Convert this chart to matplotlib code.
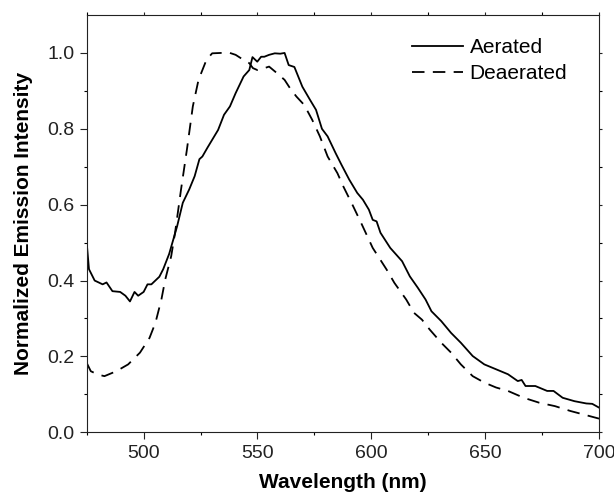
import numpy as np
import matplotlib
matplotlib.use("Agg")
import matplotlib.pyplot as plt

# emission spectra
aer_wl = [475, 476, 478.5, 482, 483.7, 486.3, 489.7, 492, 494, 496, 497.6, 500,
          501.7, 503.4, 506.9, 508.6, 511.2, 514.7, 517.2, 520, 522.4, 524.5,
          525.8, 528, 530.1, 532.7, 535.3, 537.9, 540.4, 543.9, 546.4, 547.8,
          549.9, 551.6, 553, 555.1, 557.6, 560, 561.9, 563.7, 566.2, 569.7,
          573.1, 575.7, 578.3, 580.8, 584.3, 586.9, 590.3, 593.8, 596.3, 598.9,
          600.6, 602.3, 604, 608.3, 613.5, 616.9, 620.4, 623.8, 626.4, 630.7,
          635, 639.3, 644.5, 649.6, 654.8, 660, 664.3, 666, 667.7, 672, 677.2,
          680, 684, 689.2, 694.4, 697, 700]
aer_int = [0.50, 0.43, 0.40, 0.39, 0.395, 0.372, 0.37, 0.36, 0.345, 0.37, 0.36,
           0.37, 0.39, 0.39, 0.41, 0.43, 0.47, 0.543, 0.605, 0.64, 0.675, 0.72,
           0.727, 0.75, 0.771, 0.797, 0.837, 0.859, 0.894, 0.938, 0.955, 0.989,
           0.977, 0.99, 0.99, 0.995, 0.999, 0.998, 1.0, 0.968, 0.963, 0.911,
           0.876, 0.85, 0.80, 0.78, 0.736, 0.705, 0.666, 0.631, 0.613, 0.587,
           0.56, 0.556, 0.526, 0.486, 0.451, 0.411, 0.381, 0.35, 0.319, 0.293,
           0.262, 0.236, 0.201, 0.179, 0.166, 0.153, 0.135, 0.138, 0.122, 0.122,
           0.109, 0.109, 0.091, 0.082, 0.076, 0.075, 0.065]

dea_wl = [475, 476.8, 480, 482.8, 488, 493.2, 498.4, 502.6, 505.2, 507.8, 509.5,
          512.1, 513.8, 516.4, 519, 521.6, 524.1, 527.6, 530.1, 534, 537.9,
          540.4, 543, 546.4, 548, 549.9, 552, 555.1, 558.5, 561.9, 564.5, 567.1,
          570.5, 574, 577.4, 580.8, 585.1, 587.7, 592, 595.5, 600.6, 606.7,
          610.1, 615.3, 618.7, 622.2, 625.6, 630.7, 635, 639.3, 644.5, 649.6,
          654.8, 660, 666.9, 673.7, 680.6, 687.5, 694.4, 700]
dea_int = [0.183, 0.161, 0.152, 0.148, 0.161, 0.179, 0.21, 0.249, 0.289, 0.35,
           0.403, 0.464, 0.526, 0.639, 0.745, 0.859, 0.929, 0.982, 0.999, 1.0,
           1.0, 0.995, 0.985, 0.973, 0.96, 0.955, 0.958, 0.964, 0.947, 0.929,
           0.905, 0.885, 0.863, 0.824, 0.78, 0.727, 0.683, 0.648, 0.596, 0.552,
           0.486, 0.429, 0.394, 0.35, 0.315, 0.297, 0.271, 0.236, 0.21, 0.179,
           0.148, 0.131, 0.118, 0.109, 0.091, 0.078, 0.069, 0.056, 0.045, 0.036]

plt.rcParams['font.family'] = ['Liberation Sans', 'DejaVu Sans']
plt.rcParams['lines.scale_dashes'] = False

fig = plt.figure(figsize=(6.14, 4.97), dpi=100)
ax = fig.add_axes([0.1412, 0.1302, 0.8345, 0.8396])

ax.plot(aer_wl, aer_int, color='black', lw=1.3, label='Aerated')
ax.plot(dea_wl, dea_int, color='black', lw=1.3, linestyle=(0, (9, 6)),
        label='Deaerated')

ax.set_xlim(475, 700)
ax.set_ylim(0, 1.1)
ax.set_xticks([500, 550, 600, 650, 700])
ax.set_xticks(np.arange(475, 701, 25), minor=True)
ax.set_yticks([0.0, 0.2, 0.4, 0.6, 0.8, 1.0])
ax.set_yticks(np.arange(0.1, 1.01, 0.2), minor=True)
ax.yaxis.set_major_formatter(matplotlib.ticker.FormatStrFormatter('%.1f'))

ax.tick_params(which='major', direction='out', length=5, width=0.8,
               labelsize=14, colors='#222222', pad=4)
ax.tick_params(which='minor', direction='out', length=2.5, width=0.8)
ax.tick_params(which='both', top=True, right=True)
# tiny ticks on the mirrored top/right spines
for t in (ax.xaxis.get_major_ticks() + ax.xaxis.get_minor_ticks()
          + ax.yaxis.get_major_ticks() + ax.yaxis.get_minor_ticks()):
    t.tick2line.set_markersize(2)

for s in ax.spines.values():
    s.set_linewidth(0.8)
    s.set_color('#222222')

ax.set_xlabel('Wavelength (nm)', fontsize=15, fontweight='bold', labelpad=8)
ax.set_ylabel('Normalized Emission Intensity', fontsize=15, fontweight='bold',
              labelpad=10)

ax.legend(loc='upper left', bbox_to_anchor=(0.634, 0.945), frameon=False,
          fontsize=15, handlelength=2.45, handletextpad=0.34,
          labelspacing=0.33, borderpad=0, borderaxespad=0)

fig.savefig('out.png', dpi=100)
